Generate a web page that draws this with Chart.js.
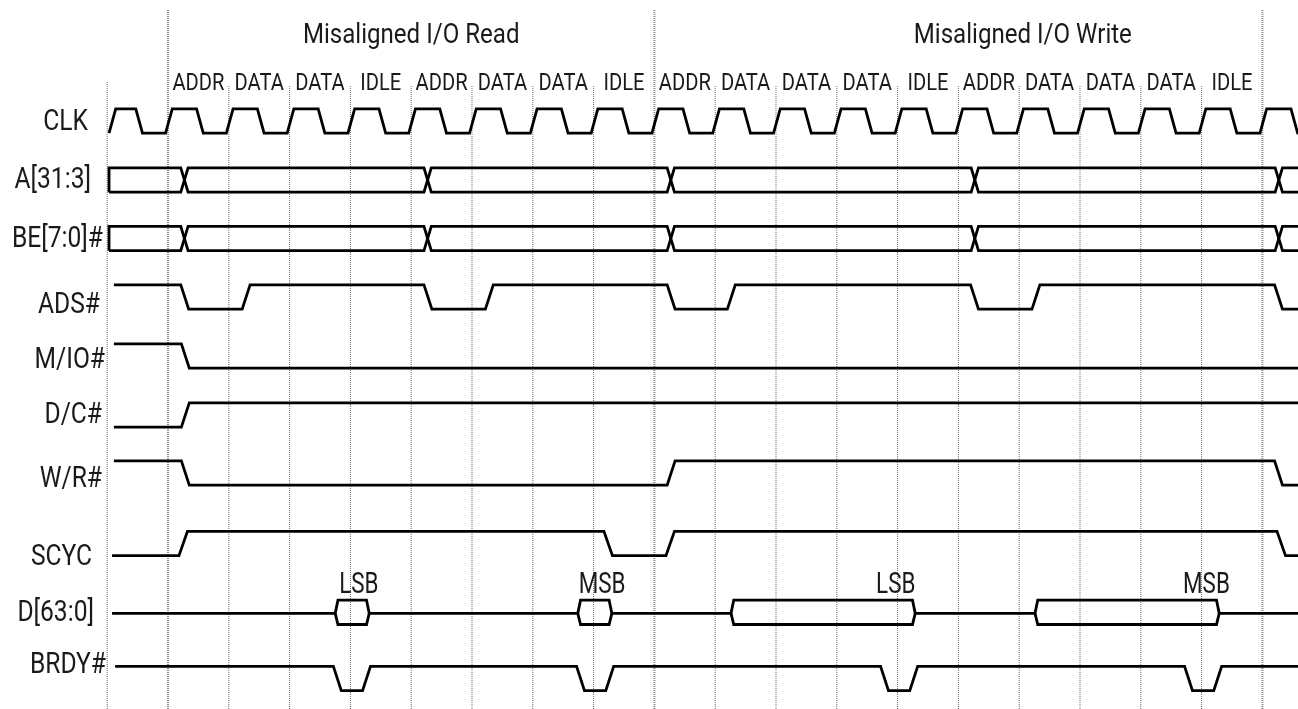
<!DOCTYPE html>
<html>
<head>
  <meta name="viewport" content="width=device-width, initial-scale=1.0">
  <title>Misaligned I/O timing</title>
  <script src="https://cdn.jsdelivr.net/npm/chart.js"></script>
  <style>
    body { margin: 0; padding: 0; background: #fff; }
    #wrap { width: 1298px; height: 709px; position: relative; }
  </style>
</head>
<body>
  <div id="wrap"><canvas id="timing"></canvas></div>

  <script>
    // ---- data (times in clock periods, 0 = first ADDR clock edge) ----
    const signalNames = ['CLK', 'A[31:3]', 'BE[7:0]#', 'ADS#', 'M/IO#', 'D/C#', 'W/R#', 'SCYC', 'D[63:0]', 'BRDY#'];
    const sectionTitles = ['Misaligned I/O Read', 'Misaligned I/O Write'];
    const sectionTitleAt = [4.0, 14.06];
    const phaseLabels = ['ADDR', 'DATA', 'DATA', 'IDLE', 'ADDR', 'DATA', 'DATA', 'IDLE',
                         'ADDR', 'DATA', 'DATA', 'DATA', 'IDLE', 'ADDR', 'DATA', 'DATA', 'DATA', 'IDLE'];
    const gridCycles = [-1, 0, 1, 2, 3, 4, 5, 6, 7, 8, 9, 10, 11, 12, 13, 14, 15, 16, 17, 18];
    const sectionBounds = [0, 8, 18];

    const signalStart = [-0.97, -0.97, -0.97, -0.89, -0.89, -0.89, -0.89, -0.92, -0.92, -0.87];
    const signalEnd = 18.6;

    // CLK: alternating rise / fall start times, starts low
    const clkEdges = [-0.97, -0.53, -0.04, 0.47, 0.96, 1.47, 1.96, 2.47, 2.96, 3.47,
                      3.96, 4.47, 4.96, 5.47, 5.96, 6.47, 6.96, 7.47, 7.96, 8.47,
                      8.96, 9.47, 9.96, 10.47, 10.96, 11.47, 11.96, 12.47, 12.96, 13.47,
                      13.96, 14.47, 14.96, 15.47, 15.96, 16.47, 16.96, 17.47, 17.96, 18.47];
    const addrCrossings = [0.27, 4.27, 8.27, 13.27, 18.27];
    const beCrossings = [0.27, 4.27, 8.27, 13.27, 18.27];
    const adsEdges = [0.21, 1.22, 4.21, 5.22, 8.21, 9.2, 13.2, 14.21, 18.2];
    const mioEdges = [0.22];
    const dcEdges = [0.22];
    const wrEdges = [0.22, 8.21, 18.2];
    const scycEdges = [0.18, 7.17, 8.19, 18.24];
    const dataBoxes = [[2.75, 3.31], [6.74, 7.30], [9.26, 12.29], [14.26, 17.29]];
    const dataBoxLabels = ['LSB', 'MSB', 'LSB', 'MSB'];
    const dataBoxLabelAt = [3.14, 7.14, 11.97, 17.08];
    const brdyEdges = [2.72, 3.2, 6.72, 7.2, 11.72, 12.2, 16.72, 17.2];
    const initLevel = { CLK: 0, ADS: 1, MIO: 1, DC: 0, WR: 1, SCYC: 0, BRDY: 1 };

    // ---- layout ----
    const pxPerCycle = 60.8, originPx = 168, W = 1298, H = 709;
    const rowCenter = [121, 180, 238.5, 297, 356, 415, 473, 543.5, 612.3, 678.5];
    const half = 12.2;
    const nameRight = [88, 91, 103, 100, 105, 102, 102, 92, 94, 106];
    const nameBase = [129.5, 188, 247, 313, 368, 423, 487, 565, 621, 673];
    const slew = { CLK: 0.11, STD: 0.13, SCYC: 0.14 };
    const crossHalf = 0.06, boxInset = 0.045;
    const FONT = "'Roboto', 'Open Sans', sans-serif";

    function lv(row, level) { return rowCenter[row] + (level ? -half : half); }

    function wave(row, init, edges, sl) {
      const pts = [{ x: signalStart[row], y: lv(row, init) }];
      let l = init;
      edges.forEach(e => {
        pts.push({ x: e, y: lv(row, l) });
        l = 1 - l;
        pts.push({ x: e + sl, y: lv(row, l) });
      });
      pts.push({ x: signalEnd, y: lv(row, l) });
      return pts;
    }

    function bus(row, crossings) {
      let la = 1, lb = 0;
      const s = signalStart[row];
      const a = [{ x: s, y: lv(row, 0) }, { x: s, y: lv(row, 1) }];
      const b = [{ x: s, y: lv(row, 0) }];
      crossings.forEach(c => {
        a.push({ x: c - crossHalf, y: lv(row, la) }); la = 1 - la; a.push({ x: c + crossHalf, y: lv(row, la) });
        b.push({ x: c - crossHalf, y: lv(row, lb) }); lb = 1 - lb; b.push({ x: c + crossHalf, y: lv(row, lb) });
      });
      a.push({ x: signalEnd, y: lv(row, la) });
      b.push({ x: signalEnd, y: lv(row, lb) });
      return [a, b];
    }

    function dataBus(row) {
      const mid = rowCenter[row] + 1;
      const upper = [{ x: signalStart[row], y: mid }];
      const lowers = [];
      dataBoxes.forEach(([s, e]) => {
        upper.push({ x: s, y: mid }, { x: s + boxInset, y: lv(row, 1) },
                   { x: e - boxInset, y: lv(row, 1) }, { x: e, y: mid });
        lowers.push([{ x: s, y: mid }, { x: s + boxInset, y: lv(row, 0) },
                     { x: e - boxInset, y: lv(row, 0) }, { x: e, y: mid }]);
      });
      upper.push({ x: signalEnd, y: mid });
      return [upper, ...lowers];
    }

    const waves = [
      wave(0, initLevel.CLK, clkEdges, slew.CLK),
      ...bus(1, addrCrossings),
      ...bus(2, beCrossings),
      wave(3, initLevel.ADS, adsEdges, slew.STD),
      wave(4, initLevel.MIO, mioEdges, slew.STD),
      wave(5, initLevel.DC, dcEdges, slew.STD),
      wave(6, initLevel.WR, wrEdges, slew.STD),
      wave(7, initLevel.SCYC, scycEdges, slew.SCYC),
      ...dataBus(8),
      wave(9, initLevel.BRDY, brdyEdges, slew.STD)
    ];

    const datasets = waves.map(pts => ({
      data: pts, borderColor: '#000', borderWidth: 2.8, pointRadius: 0, tension: 0, order: 0
    }));
    gridCycles.forEach(g => {
      const tall = sectionBounds.includes(g);
      const top = tall ? 10 : (g === -1 ? 82 : 86);
      datasets.push({
        data: [{ x: g, y: top }, { x: g, y: H }],
        borderColor: tall ? '#8a8a8a' : '#6e6e6e', borderWidth: tall ? 2 : 1,
        borderDash: [1, 1], pointRadius: 0, order: 1
      });
    });

    function txt(ctx, s, x, y, align, size, sx) {
      ctx.save();
      ctx.font = `${size}px ${FONT}`;
      ctx.fillStyle = '#1a1a1a';
      ctx.textAlign = align;
      ctx.textBaseline = 'alphabetic';
      ctx.translate(x, y);
      ctx.scale(sx, 1);
      ctx.fillText(s, 0, 0);
      ctx.restore();
    }

    const textPlugin = {
      id: 'timingText',
      afterDatasetsDraw(chart) {
        const { ctx, scales: { x, y } } = chart;
        sectionTitles.forEach((s, i) => txt(ctx, s, x.getPixelForValue(sectionTitleAt[i]), y.getPixelForValue(43), 'center', 28, 0.86));
        phaseLabels.forEach((s, k) => txt(ctx, s, x.getPixelForValue(k + 0.5), y.getPixelForValue(89.5), 'center', 24, 0.84));
        signalNames.forEach((s, i) => txt(ctx, s, nameRight[i], y.getPixelForValue(nameBase[i]), 'right', 30, 0.82));
        dataBoxLabels.forEach((s, i) => txt(ctx, s, x.getPixelForValue(dataBoxLabelAt[i]), y.getPixelForValue(593), 'center', 29.5, 0.76));
      }
    };

    new Chart(document.getElementById('timing'), {
      type: 'line',
      data: { datasets },
      options: {
        responsive: true,
        maintainAspectRatio: false,
        animation: false,
        layout: { padding: 0 },
        plugins: { legend: { display: false }, tooltip: { enabled: false } },
        scales: {
          x: { type: 'linear', display: false, min: -originPx / pxPerCycle, max: (W - originPx) / pxPerCycle },
          y: { type: 'linear', display: false, reverse: true, min: 0, max: H }
        }
      },
      plugins: [textPlugin]
    });
  </script>
</body>
</html>
